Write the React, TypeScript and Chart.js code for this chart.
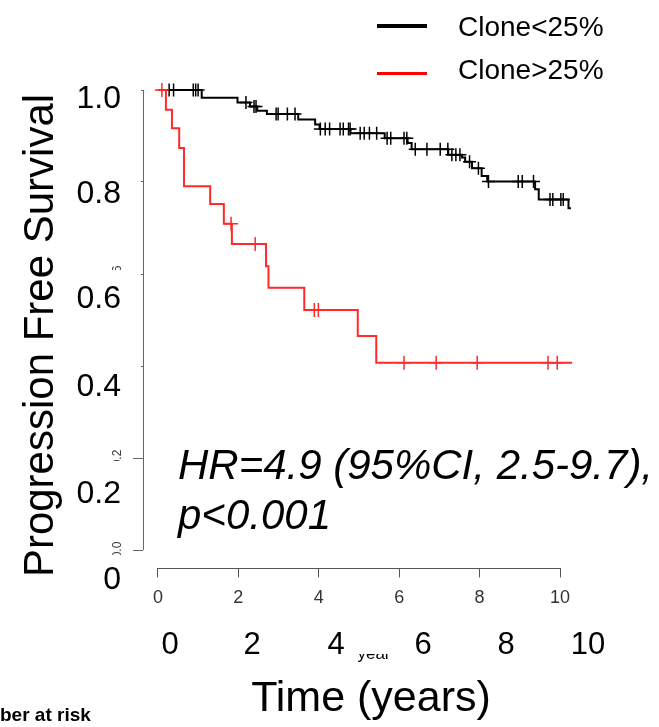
import React, { useEffect, useRef } from "react";
import { Chart, registerables } from "chart.js";

Chart.register(...registerables);

// ---- Data ----
const X_TICKS = [0, 2, 4, 6, 8, 10];
const Y_TICKS = [0, 0.2, 0.4, 0.6, 0.8, 1.0];
const BIG_Y_LABELS = ["1.0", "0.8", "0.6", "0.4", "0.2", "0"];
const BIG_X_LABELS = ["0", "2", "4", "6", "8", "10"];

// Clone<25% (black): event times and survival after each event
const LOW_EVENT_TIMES = [0, 1.09, 1.98, 2.29, 2.47, 2.71, 3.49, 3.91, 4.02, 4.79, 5.64, 6.21, 6.31, 7.22, 7.56, 7.64, 7.81, 8.05, 8.19, 9.38, 9.47, 10.21, 10.27];
const LOW_SURVIVAL = [1, 0.983, 0.973, 0.964, 0.955, 0.948, 0.936, 0.925, 0.915, 0.906, 0.895, 0.885, 0.871, 0.859, 0.853, 0.844, 0.83, 0.813, 0.801, 0.784, 0.762, 0.743, 0.743];
const LOW_CENSOR_TIMES = [0.28, 0.39, 0.88, 0.94, 1.0, 2.19, 2.39, 2.44, 2.94, 2.99, 3.22, 3.41, 4.04, 4.16, 4.27, 4.53, 4.61, 4.74, 4.78, 5.03, 5.13, 5.26, 5.44, 5.7, 5.79, 6.12, 6.19, 6.4, 6.69, 7.02, 7.21, 7.31, 7.41, 7.51, 7.75, 7.97, 8.22, 8.96, 9.06, 9.34, 9.75, 9.82, 10.02, 10.08];

// Clone>25% (red)
const HIGH_EVENT_TIMES = [0, 0.2, 0.35, 0.53, 0.65, 1.3, 1.64, 1.84, 2.69, 2.75, 3.64, 4.97, 5.43, 10.3];
const HIGH_SURVIVAL = [1, 0.957, 0.917, 0.874, 0.791, 0.752, 0.709, 0.665, 0.617, 0.57, 0.522, 0.465, 0.407, 0.407];
const HIGH_CENSOR_TIMES = [0.1, 1.82, 2.42, 3.89, 3.99, 6.12, 6.92, 7.94, 9.7, 9.93];

const BLACK = "#000000";
const RED = "#ff2a2a";

function survivalAt(times: number[], surv: number[], t: number) {
  let v = surv[0];
  for (let i = 0; i < times.length; i++) {
    if (times[i] <= t) v = surv[i];
  }
  return v;
}

const rAxisPlugin = {
  id: "rAxis",
  afterDraw(chart: any) {
    const ctx = chart.ctx;
    const xs = chart.scales.x;
    const ys = chart.scales.y;
    const area = chart.chartArea;
    ctx.save();
    ctx.strokeStyle = "#666";
    ctx.lineWidth = 1;
    // y axis segment 0..1
    const ax = Math.round(area.left) + 0.5;
    ctx.beginPath();
    ctx.moveTo(ax, ys.getPixelForValue(0));
    ctx.lineTo(ax, ys.getPixelForValue(1));
    ctx.stroke();
    // x axis segment 0..10
    const ay = Math.round(area.bottom) + 0.5;
    ctx.strokeStyle = "#555";
    ctx.beginPath();
    ctx.moveTo(xs.getPixelForValue(X_TICKS[0]), ay);
    ctx.lineTo(xs.getPixelForValue(X_TICKS[X_TICKS.length - 1]), ay);
    ctx.stroke();
    // rotated small y tick labels (R style)
    ctx.fillStyle = "#3a3a3a";
    ctx.font = '12px "Liberation Sans", Arial, sans-serif';
    ctx.textAlign = "center";
    ctx.textBaseline = "middle";
    Y_TICKS.forEach((v) => {
      ctx.save();
      ctx.translate(area.left - 25.5, ys.getPixelForValue(v));
      ctx.rotate(-Math.PI / 2);
      ctx.fillText(v.toFixed(1), 0, 0);
      ctx.restore();
    });
    ctx.restore();
  },
};

type TextProps = {
  x: number;
  baseline: number;
  size: number;
  align?: "left" | "center" | "right";
  italic?: boolean;
  bold?: boolean;
  children: React.ReactNode;
};

function Txt({ x, baseline, size, align = "center", italic, bold, children }: TextProps) {
  const lh = size * 1.2;
  const top = baseline - 0.9465 * size;
  const W = 700;
  let left = x;
  if (align === "center") left = x - W / 2;
  if (align === "right") left = x - W;
  return (
    <div
      style={{
        position: "absolute",
        left,
        top,
        width: W,
        height: lh,
        lineHeight: `${lh}px`,
        fontSize: size,
        textAlign: align,
        fontStyle: italic ? "italic" : "normal",
        fontWeight: bold ? "bold" : "normal",
        whiteSpace: "nowrap",
        color: "#000",
      }}
    >
      {children}
    </div>
  );
}

function Box({ l, t, w, h }: { l: number; t: number; w: number; h: number }) {
  return <div style={{ position: "absolute", left: l, top: t, width: w, height: h, background: "#fff" }} />;
}

export default function App() {
  const ref = useRef<HTMLCanvasElement | null>(null);

  useEffect(() => {
    if (!ref.current) return;
    const chart = new Chart(ref.current, {
      type: "line",
      data: {
        datasets: [
          {
            label: "Clone>25%",
            data: HIGH_EVENT_TIMES.map((t, i) => ({ x: t, y: HIGH_SURVIVAL[i] })),
            borderColor: RED,
            borderWidth: 2,
            stepped: true,
            pointRadius: 0,
            fill: false,
            order: 0,
          } as any,
          {
            label: "Clone>25% censored",
            data: HIGH_CENSOR_TIMES.map((t) => ({ x: t, y: survivalAt(HIGH_EVENT_TIMES, HIGH_SURVIVAL, t) })),
            showLine: false,
            pointStyle: "cross",
            pointRadius: 7,
            borderColor: RED,
            backgroundColor: RED,
            borderWidth: 1.5,
            order: 1,
          } as any,
          {
            label: "Clone<25%",
            data: LOW_EVENT_TIMES.map((t, i) => ({ x: t, y: LOW_SURVIVAL[i] })),
            borderColor: BLACK,
            borderWidth: 2,
            stepped: true,
            pointRadius: 0,
            fill: false,
            order: 2,
          } as any,
          {
            label: "Clone<25% censored",
            data: LOW_CENSOR_TIMES.map((t) => ({ x: t, y: survivalAt(LOW_EVENT_TIMES, LOW_SURVIVAL, t) })),
            showLine: false,
            pointStyle: "cross",
            pointRadius: 6.5,
            borderColor: BLACK,
            backgroundColor: BLACK,
            borderWidth: 1.5,
            order: 3,
          } as any,
        ],
      },
      options: {
        responsive: false,
        animation: false,
        events: [],
        layout: { padding: { left: 0, right: 72.4, top: 71.6, bottom: 0 } },
        plugins: { legend: { display: false }, tooltip: { enabled: false }, title: { display: false } },
        scales: {
          x: {
            type: "linear",
            min: -0.37,
            max: 10.66,
            afterBuildTicks: (s: any) => {
              s.ticks = X_TICKS.map((v) => ({ value: v }));
            },
            afterFit: (s: any) => {
              s.height = 158.6;
            },
            grid: { drawOnChartArea: false, drawTicks: true, tickLength: 9, color: "#555", lineWidth: 1 },
            border: { display: false },
            ticks: {
              font: { family: '"Liberation Sans", Arial, sans-serif', size: 18 },
              color: "#333",
              padding: 10,
              maxRotation: 0,
              autoSkip: false,
            },
          },
          y: {
            type: "linear",
            min: -0.04,
            max: 1.04,
            afterBuildTicks: (s: any) => {
              s.ticks = Y_TICKS.map((v) => ({ value: v }));
            },
            afterFit: (s: any) => {
              s.width = 143;
            },
            grid: { drawOnChartArea: false, drawTicks: true, tickLength: 10, color: "#666", lineWidth: 1 },
            border: { display: false },
            ticks: { display: false },
          },
        },
      } as any,
      plugins: [rAxisPlugin],
    });
    return () => chart.destroy();
  }, []);

  const bigYBaselines = [108, 203, 308, 396, 503, 589.5];
  const bigXCenters = [170, 252, 336, 423, 506, 588];

  return (
    <div
      style={{
        position: "absolute",
        left: 0,
        top: 0,
        width: 659,
        height: 727,
        overflow: "hidden",
        background: "#fff",
        fontFamily: '"Liberation Sans", Arial, sans-serif',
      }}
    >
      <canvas ref={ref} width={659} height={727} style={{ position: "absolute", left: 0, top: 0, width: 659, height: 727 }} />

      {/* original small x title, mostly hidden by the label patch */}
      <Txt x={374} baseline={660} size={17}>
        year
      </Txt>

      {/* white patches of the overlaid labels */}
      <Box l={60} t={76} w={81} h={40} />
      <Box l={60} t={170} w={81} h={40} />
      <Box l={60} t={270} w={81} h={40} />
      <Box l={60} t={358} w={81} h={42} />
      <Box l={60} t={461} w={71} h={45} />
      <Box l={60} t={555} w={71} h={40} />
      <Box l={150} t={622} w={465} h={32} />

      {BIG_Y_LABELS.map((s, i) => (
        <Txt key={"y" + i} x={121} baseline={bigYBaselines[i]} size={32} align="right">
          {s}
        </Txt>
      ))}
      {BIG_X_LABELS.map((s, i) => (
        <Txt key={"x" + i} x={bigXCenters[i]} baseline={654} size={31}>
          {s}
        </Txt>
      ))}

      <Txt x={371} baseline={712} size={43}>
        Time (years)
      </Txt>

      <div
        style={{
          position: "absolute",
          left: 37.5 - 280,
          top: 335 - 23.5,
          width: 560,
          height: 47,
          lineHeight: "47px",
          fontSize: 42,
          textAlign: "center",
          whiteSpace: "nowrap",
          transform: "rotate(-90deg)",
          color: "#000",
        }}
      >
        Progression Free Survival
      </div>

      <Txt x={178} baseline={480} size={42} align="left" italic>
        HR=4.9 (95%CI, 2.5-9.7),
      </Txt>
      <Txt x={178} baseline={530} size={42} align="left" italic>
        p&lt;0.001
      </Txt>

      {/* legend */}
      <div style={{ position: "absolute", left: 377, top: 24, width: 50, height: 4, background: BLACK }} />
      <div style={{ position: "absolute", left: 377, top: 71.5, width: 50, height: 3, background: "#ff0000" }} />
      <Txt x={458} baseline={37} size={28} align="left">
        Clone&lt;25%
      </Txt>
      <Txt x={458} baseline={80} size={28} align="left">
        Clone&gt;25%
      </Txt>

      <Txt x={0} baseline={722} size={19} align="left" bold>
        ber at risk
      </Txt>
    </div>
  );
}
